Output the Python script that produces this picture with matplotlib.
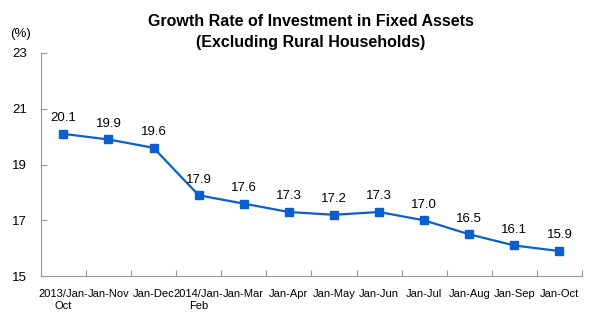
import matplotlib.pyplot as plt
import numpy as np

plt.rcParams['font.family'] = ['Liberation Sans', 'DejaVu Sans']

periods = ['2013/Jan-\nOct', 'Jan-Nov', 'Jan-Dec', '2014/Jan-\nFeb', 'Jan-Mar', 'Jan-Apr',
           'Jan-May', 'Jan-Jun', 'Jan-Jul', 'Jan-Aug', 'Jan-Sep', 'Jan-Oct']
growth = [20.1, 19.9, 19.6, 17.9, 17.6, 17.3, 17.2, 17.3, 17.0, 16.5, 16.1, 15.9]
y_ticks = [15, 17, 19, 21, 23]

fig = plt.figure(figsize=(6, 3.23), dpi=100)
ax = fig.add_axes([0.068, 0.145, 0.902, 0.691])

x = np.arange(len(growth))
ax.plot(x, growth, color='#0A5FCC', lw=1.6, marker='s', markersize=5.5, zorder=3)
for xi, v in zip(x, growth):
    ax.annotate(f'{v:.1f}', (xi, v), xytext=(0, 7), textcoords='offset points',
                ha='center', va='bottom', fontsize=9.5)

ax.set_xlim(-0.5, len(growth) - 0.5)
ax.set_ylim(15, 23)
ax.set_yticks(y_ticks)
ax.set_yticklabels([str(t) for t in y_ticks], fontsize=9.5)

# boundary ticks between categories, labels at the centres
ax.set_xticks(np.arange(len(growth) + 1) - 0.5)
ax.set_xticklabels([])
ax.set_xticks(x, minor=True)
ax.set_xticklabels(periods, minor=True, fontsize=8, linespacing=1.25)
ax.tick_params(axis='x', which='minor', length=0, pad=9)
ax.tick_params(axis='x', which='major', direction='in', length=4, color='#999999')
ax.tick_params(axis='y', direction='in', length=4, color='#999999', pad=10)

for s in ['top', 'right']:
    ax.spines[s].set_visible(False)
for s in ['left', 'bottom']:
    ax.spines[s].set_color('#999999')
    ax.spines[s].set_linewidth(0.8)

fig.text(0.518, 0.901, 'Growth Rate of Investment in Fixed Assets\n(Excluding Rural Households)',
         ha='center', va='center', fontsize=11.5, fontweight='bold', linespacing=1.45)
fig.text(0.017, 0.875, '(%)', ha='left', va='bottom', fontsize=9.5)

fig.savefig('out.png', dpi=100)
